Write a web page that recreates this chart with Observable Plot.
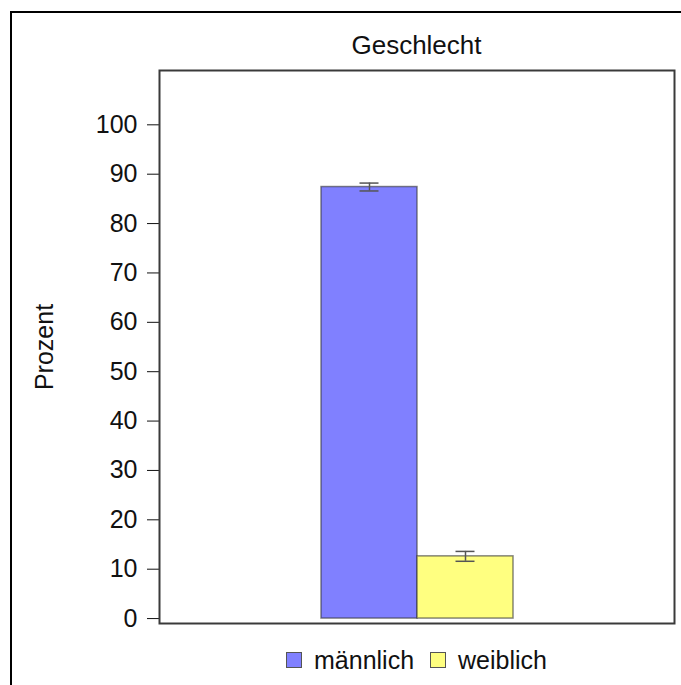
<!DOCTYPE html>
<html>
<head>
<meta charset="utf-8">
<script src="https://cdn.jsdelivr.net/npm/d3@7"></script>
<script src="https://cdn.jsdelivr.net/npm/@observablehq/plot@0.6"></script>
<style>
  html, body { margin: 0; padding: 0; background: #fff; }
  body { width: 681px; height: 685px; position: relative; overflow: hidden; font-family: "Liberation Sans", Arial, sans-serif; }
  #border { position: absolute; left: 10px; top: 11px; width: 700px; height: 700px; border-top: 2px solid #000; border-left: 2px solid #000; }
  #title { position: relative; height: 68px; }
  #title span { position: absolute; left: 159px; width: 515px; top: 30px; text-align: center; font-size: 26px; color: #111; }
  #chart { position: relative; height: 572px; }
  #legend { position: relative; height: 40px; display: flex; justify-content: center; align-items: center; gap: 0; padding-left: 152px; box-sizing: border-box; width: 681px; font-size: 25px; color: #111; }
  .item { display: flex; align-items: center; margin: 0 8px; }
  .sw { width: 14px; height: 14px; border: 1px solid #555; margin-right: 12px; }
</style>
</head>
<body>
<div id="border"></div>
<div id="title"><span>Geschlecht</span></div>
<div id="chart"></div>
<div id="legend"></div>
<script>
const categories = ["männlich", "weiblich"];
const percents = [87.4, 12.6];
const errLow = [86.6, 11.6];
const errHigh = [88.2, 13.6];
const colors = ["#8080ff", "#ffff80"];
const yTicks = [0, 10, 20, 30, 40, 50, 60, 70, 80, 90, 100];
const yLabel = "Prozent";

const data = categories.map((c, i) => ({cat: c, value: percents[i], lo: errLow[i], hi: errHigh[i]}));

const plot = Plot.plot({
  width: 681,
  height: 572,
  marginLeft: 159,
  marginRight: 7,
  marginTop: 2,
  marginBottom: 17,
  style: {fontFamily: "Liberation Sans, Arial, sans-serif", fontSize: "25px", color: "#111", background: "transparent"},
  x: {domain: categories, paddingInner: 0, paddingOuter: 1.668, axis: null},
  y: {domain: [-1, 111], ticks: yTicks, tickSize: 12, tickPadding: 10, label: yLabel, labelAnchor: "center", labelOffset: 124, labelArrow: "none"},
  color: {domain: categories, range: colors},
  marks: [
    Plot.barY(data, {x: "cat", y: "value", fill: "cat", stroke: "#333", strokeOpacity: 0.6, strokeWidth: 1.5}),
    Plot.ruleX(data, {x: "cat", y1: "lo", y2: "hi", stroke: "#555", strokeWidth: 1.5}),
    Plot.tickY(data, {x: "cat", y: "lo", stroke: "#555", strokeWidth: 1.5, insetLeft: 38.5, insetRight: 38.5}),
    Plot.tickY(data, {x: "cat", y: "hi", stroke: "#555", strokeWidth: 1.5, insetLeft: 38.5, insetRight: 38.5}),
    Plot.frame({stroke: "#3a3a3a", strokeWidth: 2})
  ]
});
document.getElementById("chart").appendChild(plot);

const legend = document.getElementById("legend");
categories.forEach((c, i) => {
  const item = document.createElement("div");
  item.className = "item";
  const sw = document.createElement("div");
  sw.className = "sw";
  sw.style.background = colors[i];
  const t = document.createElement("span");
  t.textContent = c;
  item.appendChild(sw);
  item.appendChild(t);
  legend.appendChild(item);
});
</script>
</body>
</html>
